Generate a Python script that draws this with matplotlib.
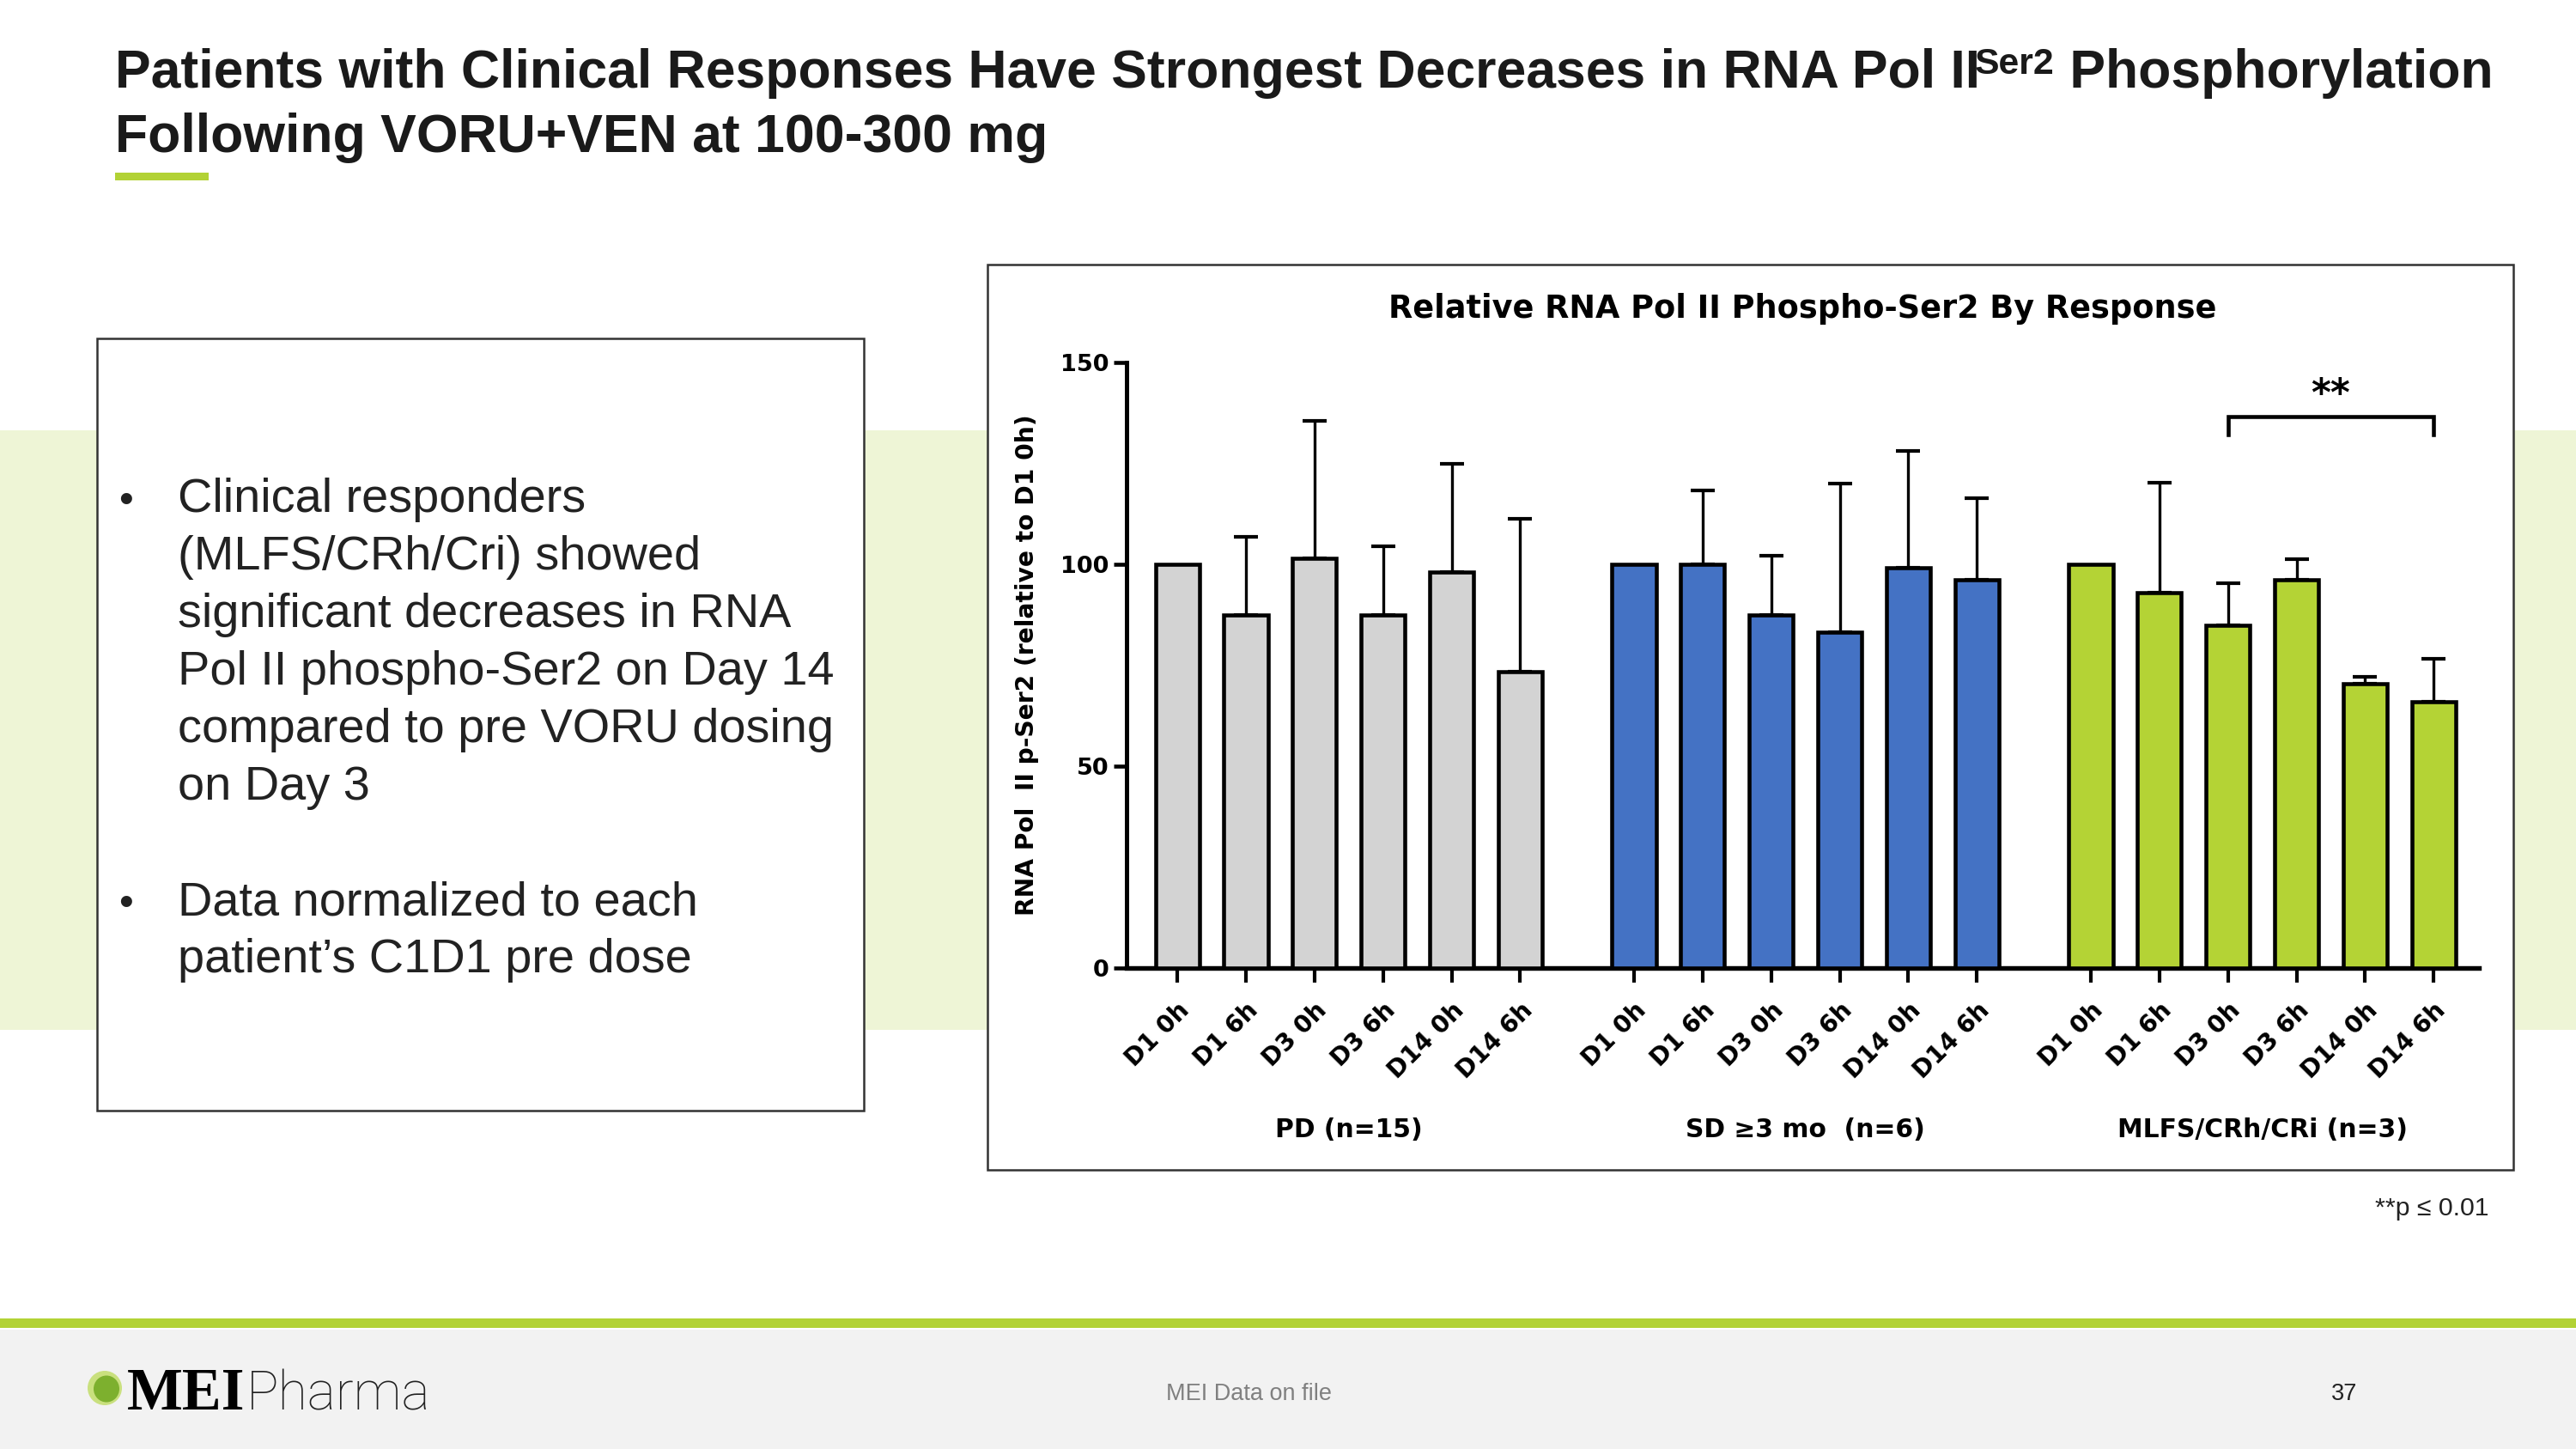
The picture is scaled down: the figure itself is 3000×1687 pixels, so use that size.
import numpy as np
import matplotlib
matplotlib.use("Agg")
import matplotlib.pyplot as plt
from matplotlib.patches import Rectangle, Ellipse
from matplotlib.transforms import blended_transform_factory

# ---------------- data ----------------
groups = ["PD (n=15)", "SD \u22653 mo  (n=6)", "MLFS/CRh/CRi (n=3)"]
timepoints = ["D1 0h", "D1 6h", "D3 0h", "D3 6h", "D14 0h", "D14 6h"]
pd_mean = [100, 87.4, 101.5, 87.4, 98.0, 73.5]
pd_err = [0, 19.5, 34.0, 17.0, 26.8, 37.8]
sd_mean = [100, 100, 87.4, 83.1, 99.1, 96.1]
sd_err = [0, 18.4, 14.7, 36.8, 28.9, 20.3]
cr_mean = [100, 92.9, 84.9, 96.1, 70.4, 66.0]
cr_err = [0, 27.3, 10.4, 5.1, 1.7, 10.6]
group_colors = ["#D3D3D3", "#4472C4", "#B4D335"]
y_ticks = [0, 50, 100, 150]
sig_group = 2
sig_pair = (2, 5)
sig_level = 136.5
sig_label = "**"

title_part1 = "Patients with Clinical Responses Have Strongest Decreases in RNA Pol II"
title_sup = "Ser2"
title_part2 = " Phosphorylation"
title_line2 = "Following VORU+VEN at 100-300 mg"
bullet1 = ["Clinical responders", "(MLFS/CRh/Cri) showed", "significant decreases in RNA",
           "Pol II phospho-Ser2 on Day 14", "compared to pre VORU dosing", "on Day 3"]
bullet2 = ["Data normalized to each", "patient\u2019s C1D1 pre dose"]
chart_title = "Relative RNA Pol II Phospho-Ser2 By Response"
y_label = "RNA Pol  II p-Ser2 (relative to D1 0h)"
footnote = "**p \u2264 0.01"
footer_center = "MEI Data on file"
page_no = "37"

means = [pd_mean, sd_mean, cr_mean]
errs = [pd_err, sd_err, cr_err]

# ---------------- figure ----------------
W, H = 3000, 1687
fig = plt.figure(figsize=(W / 150, H / 150), dpi=150)
fig.patch.set_facecolor("white")

bg = fig.add_axes([0, 0, 1, 1], zorder=0)
bg.set_xlim(0, W)
bg.set_ylim(H, 0)
bg.axis("off")

SANS = ["Liberation Sans", "DejaVu Sans"]
CH = ["DejaVu Sans"]

# light green band
bg.add_patch(Rectangle((0, 501), W, 698, facecolor="#EEF5D6", edgecolor="none", zorder=0))
# left text box
bg.add_patch(Rectangle((113, 394), 893, 899, facecolor="white", edgecolor="#333333", lw=1.2, zorder=1))
# chart frame
bg.add_patch(Rectangle((1150, 308), 1777, 1054, facecolor="white", edgecolor="#333333", lw=1.2, zorder=1))
# footer
bg.add_patch(Rectangle((0, 1535), W, 11, facecolor="#B2D235", edgecolor="none", zorder=1))
bg.add_patch(Rectangle((0, 1548), W, H - 1548, facecolor="#F2F2F2", edgecolor="none", zorder=1))
# title underline
bg.add_patch(Rectangle((134, 201), 109, 9, facecolor="#B2D235", edgecolor="none", zorder=1))

# ---------------- title ----------------
renderer = fig.canvas.get_renderer()
t1 = bg.text(134, 102, title_part1, fontsize=30, fontweight="bold", family=SANS,
             color="#1A1A1A", va="baseline", ha="left", zorder=3)
bb = t1.get_window_extent(renderer)
t_sup = bg.text(bb.x1 - 6, 86, title_sup, fontsize=20.5, fontweight="bold", family=SANS,
                color="#1A1A1A", va="baseline", ha="left", zorder=3)
bb2 = t_sup.get_window_extent(renderer)
bg.text(bb2.x1, 102, title_part2, fontsize=30, fontweight="bold", family=SANS,
        color="#1A1A1A", va="baseline", ha="left", zorder=3)
bg.text(134, 177, title_line2, fontsize=30, fontweight="bold", family=SANS,
        color="#1A1A1A", va="baseline", ha="left", zorder=3)

# ---------------- bullets ----------------
lh = 67.0
y0 = 596
for i, line in enumerate(bullet1):
    bg.text(207, y0 + i * lh, line, fontsize=26.8, family=SANS, color="#222222",
            va="baseline", ha="left", zorder=3)
bg.text(138, y0, "\u2022", fontsize=23, family=SANS, color="#222222", va="baseline", zorder=3)
y1 = y0 + 7 * lh
for i, line in enumerate(bullet2):
    bg.text(207, y1 + i * lh, line, fontsize=26.8, family=SANS, color="#222222",
            va="baseline", ha="left", zorder=3)
bg.text(138, y1, "\u2022", fontsize=23, family=SANS, color="#222222", va="baseline", zorder=3)

# ---------------- chart ----------------
ax = fig.add_axes([1312 / W, 1 - 1127 / H, (2887 - 1312) / W, (1127 - 422) / H], zorder=2)
ax.patch.set_alpha(0)

group_offset = 6.66
bar_w = 0.64
all_x = []
all_lab = []
for g in range(3):
    x = np.arange(len(timepoints)) + g * group_offset
    all_x.extend(x)
    all_lab.extend(timepoints)
    m = np.array(means[g])
    e = np.array(errs[g])
    mask = e > 0
    ax.errorbar(x[mask], m[mask], yerr=[np.zeros(mask.sum()), e[mask]], fmt="none",
                ecolor="black", elinewidth=1.6, capsize=6.5, capthick=2.0, zorder=2)
    ax.bar(x, m, width=bar_w, color=group_colors[g], edgecolor="black", linewidth=2.2, zorder=3)

ax.set_xlim(-0.74, 18.98)
ax.set_ylim(0, 150)
ax.set_yticks(y_ticks)
ax.set_yticklabels([str(v) for v in y_ticks], fontsize=13, fontweight="bold", family=CH)
ax.set_xticks(all_x)
ax.set_xticklabels(all_lab, rotation=45, ha="right", va="top", rotation_mode="anchor",
                   fontsize=13.5, fontweight="bold", family=CH)
ax.tick_params(axis="x", direction="out", length=8, width=2.0, pad=9)
ax.tick_params(axis="y", direction="out", length=7, width=2.2, pad=3)
for s in ["top", "right"]:
    ax.spines[s].set_visible(False)
ax.spines["left"].set_linewidth(2.4)
ax.spines["bottom"].set_linewidth(2.6)
ax.set_ylabel(y_label, fontsize=13.5, fontweight="bold", family=CH, labelpad=12)

# group labels
trans = blended_transform_factory(ax.transData, ax.transAxes)
for g, name in enumerate(groups):
    cx = 2.5 + g * group_offset
    ax.text(cx, -0.268, name, transform=trans, ha="center", va="center",
            fontsize=14.3, fontweight="bold", family=CH, clip_on=False)

# significance bracket
xa = sig_pair[0] + sig_group * group_offset
xb = sig_pair[1] + sig_group * group_offset
drop = 4.3
ax.plot([xa, xa, xb, xb], [sig_level - drop, sig_level, sig_level, sig_level - drop],
        color="black", lw=2.2, clip_on=False, solid_joinstyle="miter", zorder=4)
ax.text((xa + xb) / 2, sig_level + 1.0, sig_label, ha="center", va="bottom", fontsize=21,
        fontweight="bold", family=CH, clip_on=False)

# chart title
ax.text(0.5, (370 - 1127) / -705.0, chart_title, transform=ax.transAxes, ha="center",
        va="baseline", fontsize=17.6, fontweight="bold", family=CH, clip_on=False)

# ---------------- footnote & footer ----------------
bg.text(2898, 1415, footnote, fontsize=14.5, family=SANS, color="#222222", ha="right",
        va="baseline", zorder=3)
bg.text(1358, 1630, footer_center, fontsize=13, family=SANS, color="#808080", ha="left",
        va="baseline", zorder=3)
bg.text(2745, 1630, page_no, fontsize=13, family=SANS, color="#222222", ha="right",
        va="baseline", zorder=3)

# logo
bg.add_patch(Ellipse((122, 1616), 40, 40, facecolor="#C9E07E", edgecolor="none", zorder=3))
bg.add_patch(Ellipse((124, 1617), 30, 31, facecolor="#7DB02E", edgecolor="none", zorder=4))
tm = bg.text(148, 1641, "MEI", fontsize=33, fontweight="bold", family=["Liberation Serif", "DejaVu Serif"],
             color="black", ha="left", va="baseline", zorder=4)
bbm = tm.get_window_extent(renderer)
bg.text(bbm.x1 + 1, 1641, "Pharma", fontsize=30, fontweight="light", family=["Roboto", "DejaVu Sans"],
        color="#222222", ha="left", va="baseline", zorder=4)

fig.savefig("out.png", dpi=150)
